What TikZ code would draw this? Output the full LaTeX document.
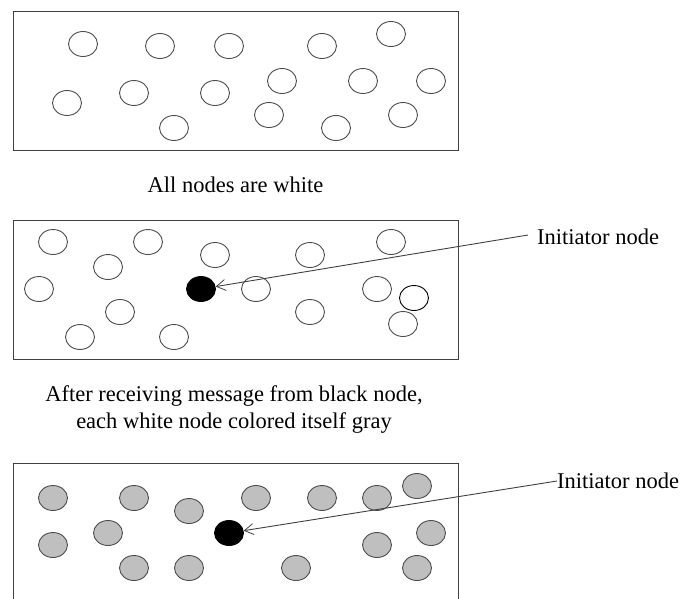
\documentclass[tikz,border=0pt]{standalone}
\usepackage{fontspec}
\setmainfont{Liberation Serif}
\usetikzlibrary{shapes.geometric,arrows.meta}
\tikzset{
  nd/.style={ellipse,draw=black!70,line width=0.9pt,minimum width=29pt,minimum height=25pt,inner sep=0pt},
  wn/.style={nd,fill=white},
  gn/.style={nd,fill=black!25},
  bn/.style={nd,draw=black,fill=black},
  panel/.style={draw=black!75,line width=0.9pt},
  lbl/.style={font=\fontsize{22.5}{27}\selectfont,inner sep=0pt},
  arr/.style={draw=black!75,line width=0.9pt,-{Straight Barb[length=9pt,width=11pt,line width=0.8pt]}}
}
\begin{document}
\begin{tikzpicture}[x=1pt,y=-1pt]
\useasboundingbox (0,0) rectangle (683,598);
\clip (0,0) rectangle (683,598);
% panel 1
\draw[panel] (13,11) rectangle (458,150);
\foreach \px/\py [count=\i] in {83/44,160/46,229/46,322/46,391/34,282/81,363/81,431/81,134/93,215/93,67/103,174/128,269/115,336/128,403/115}
  \node[wn] (a\i) at (\px,\py) {};
\node[lbl] (t1) at (235.5,185) {All nodes are white};
% panel 2
\draw[panel] (13,220) rectangle (458,359);
\foreach \px/\py [count=\i] in {53/242,148/242,215/255,310/255,391/242,108/267,39/289,256/289,377/289,120/312,310/312,403/324,80/337,174/337}
  \node[wn] (b\i) at (\px,\py) {};
\node[wn,draw=black] (bx) at (414,298) {};
\node[bn] (binit) at (201,289) {};
\node[lbl,anchor=west] (lab2) at (537,237) {Initiator node};
\draw[arr] (lab2.west) ++(-9,-2) coordinate (s2) (s2) -- (binit);
\node[lbl,align=center] (t2) at (234,409) {After receiving message from black node,\\each white node colored itself gray};
% panel 3
\draw[panel] (13,610) -- (13,463) -- (458,463) -- (458,610);
\foreach \px/\py [count=\i] in {53/498,134/498,256/498,322/498,377/498,417/486,189/511,108/533,431/533,53/545,377/545,134/568,189/568,296/568,417/568}
  \node[gn] (c\i) at (\px,\py) {};
\node[bn] (cinit) at (229,533) {};
\node[lbl,anchor=west] (lab3) at (557,481) {Initiator node};
\draw[arr] (lab3.west) -- (cinit);
\end{tikzpicture}
\end{document}
